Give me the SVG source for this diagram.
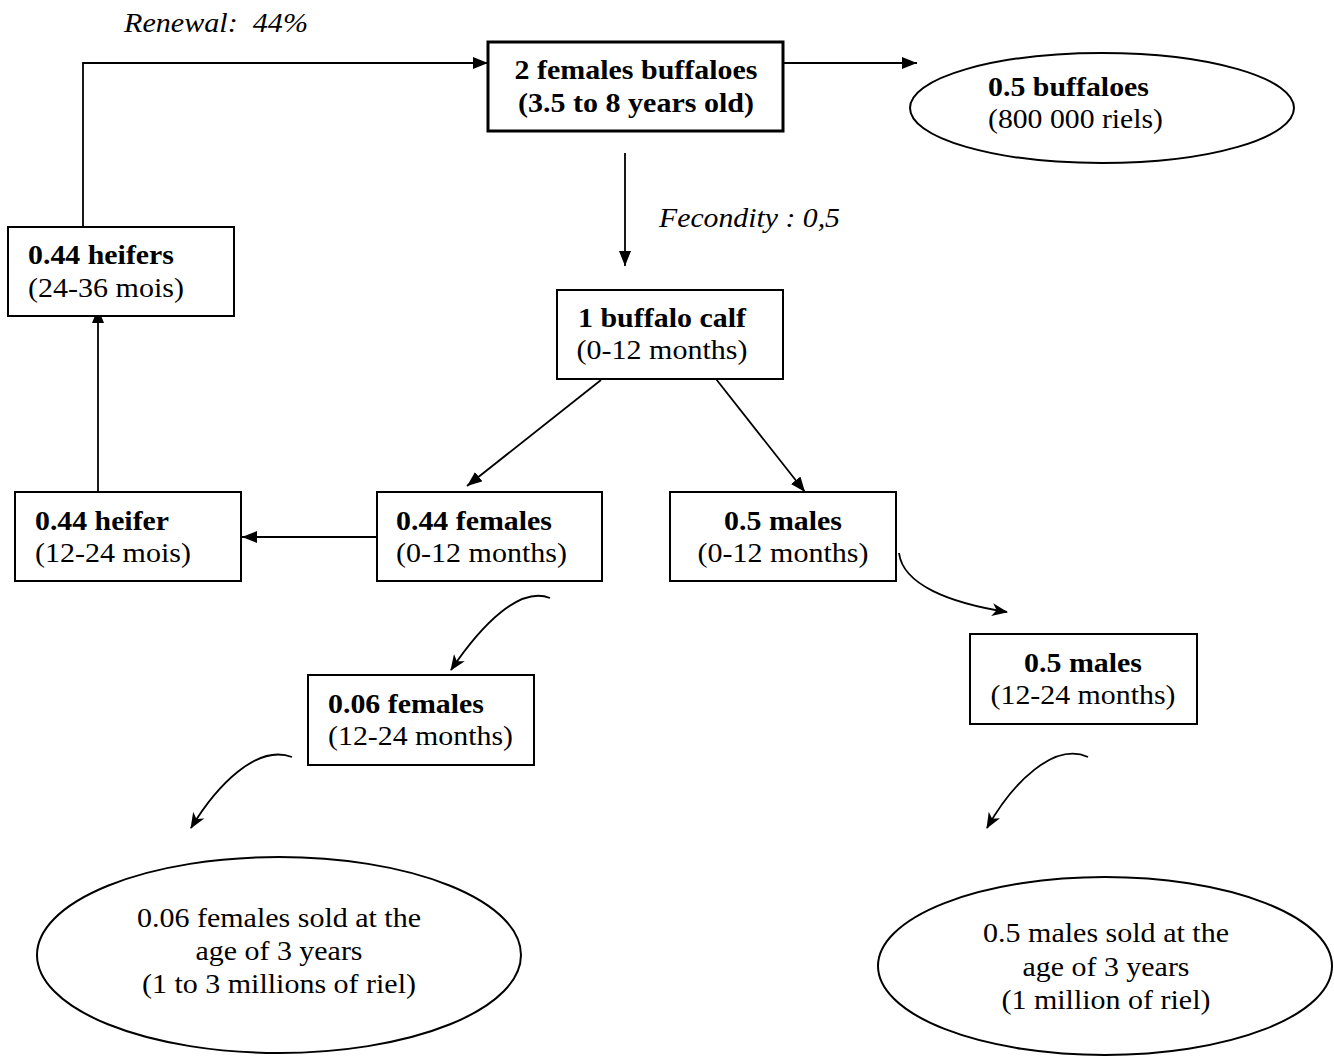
<svg xmlns="http://www.w3.org/2000/svg" width="1334" height="1057" viewBox="0 0 1334 1057">
<defs>
<style>
text{font-size:28px;fill:#000}
.b{font-weight:bold}
.i{font-style:italic}
.m{text-anchor:middle}
.box{fill:#fff;stroke:#000;stroke-width:2}
.thick{stroke-width:3}
.ell{fill:#fff;stroke:#000;stroke-width:2}
.c{fill:none;stroke:#000;stroke-width:1.8}
.s{marker-end:url(#tri)}
.k{marker-end:url(#stealth)}
</style>
<marker id="tri" viewBox="0 0 15 12" refX="15" refY="6" markerWidth="15" markerHeight="12" markerUnits="userSpaceOnUse" orient="auto"><path d="M0,0 L15,6 L0,12 z" fill="#000"/></marker>
<marker id="stealth" viewBox="0 0 16 13" refX="15" refY="6.5" markerWidth="16" markerHeight="13" markerUnits="userSpaceOnUse" orient="auto"><path d="M0,0 L16,6.5 L0,13 L4.5,6.5 z" fill="#000"/></marker>
</defs>
<rect width="1334" height="1057" fill="#fff"/>

<g id="connectors">
<path class="c s" d="M83 227 L83 63 L488 63"/>
<path class="c s" d="M783 63 L917 63"/>
<path class="c s" d="M625 153 L625 266"/>
<path class="c s" d="M601 380 L467 486"/>
<path class="c s" d="M716 379 L805 492"/>
<path class="c s" d="M376 537 L242 537"/>
<path class="c s" d="M98 492 L98 308"/>
<path class="c k" d="M899 553 C903 585 950 603 1007 612"/>
<path class="c k" d="M550 598 C520 586 482 624 451 670"/>
<path class="c k" d="M292 757 C257 744 217 785 191 828"/>
<path class="c k" d="M1088 757 C1054 742 1013 782 987 828"/>
</g>

<g font-family="'Liberation Serif', 'Times New Roman', serif">
<g id="label-renewal"><text class="i" x="124" y="32" xml:space="preserve" textLength="184" lengthAdjust="spacingAndGlyphs">Renewal:  44%</text></g>
<g id="label-fecondity"><text class="i" x="659" y="227" textLength="181" lengthAdjust="spacingAndGlyphs">Fecondity : 0,5</text></g>

<g id="node-females-adult">
<rect class="box thick" x="488" y="42" width="295" height="89"/>
<text class="b m" x="636" y="79" textLength="243" lengthAdjust="spacingAndGlyphs">2 females buffaloes</text>
<text class="b m" x="636" y="112" textLength="236" lengthAdjust="spacingAndGlyphs">(3.5 to 8 years old)</text>
</g>

<g id="node-buffaloes-sold">
<ellipse class="ell" cx="1102" cy="108" rx="192" ry="55"/>
<text class="b" x="988" y="96" textLength="161" lengthAdjust="spacingAndGlyphs">0.5 buffaloes</text>
<text x="988" y="128" textLength="175" lengthAdjust="spacingAndGlyphs">(800 000 riels)</text>
</g>

<g id="node-heifers-24-36">
<rect class="box" x="8" y="227" width="226" height="89"/>
<text class="b" x="28" y="264" textLength="146" lengthAdjust="spacingAndGlyphs">0.44 heifers</text>
<text x="28" y="297" textLength="156" lengthAdjust="spacingAndGlyphs">(24-36 mois)</text>
</g>

<g id="node-calf">
<rect class="box" x="557" y="290" width="226" height="89"/>
<text class="b m" x="662" y="327" textLength="168" lengthAdjust="spacingAndGlyphs">1 buffalo calf</text>
<text class="m" x="662" y="359" textLength="171" lengthAdjust="spacingAndGlyphs">(0-12 months)</text>
</g>

<g id="node-heifer-12-24">
<rect class="box" x="15" y="492" width="226" height="89"/>
<text class="b" x="35" y="530" textLength="134" lengthAdjust="spacingAndGlyphs">0.44 heifer</text>
<text x="35" y="562" textLength="156" lengthAdjust="spacingAndGlyphs">(12-24 mois)</text>
</g>

<g id="node-females-0-12">
<rect class="box" x="377" y="492" width="225" height="89"/>
<text class="b" x="396" y="530" textLength="156" lengthAdjust="spacingAndGlyphs">0.44 females</text>
<text x="396" y="562" textLength="171" lengthAdjust="spacingAndGlyphs">(0-12 months)</text>
</g>

<g id="node-males-0-12">
<rect class="box" x="670" y="492" width="226" height="89"/>
<text class="b m" x="783" y="530" textLength="118" lengthAdjust="spacingAndGlyphs">0.5 males</text>
<text class="m" x="783" y="562" textLength="171" lengthAdjust="spacingAndGlyphs">(0-12 months)</text>
</g>

<g id="node-males-12-24">
<rect class="box" x="970" y="634" width="227" height="90"/>
<text class="b m" x="1083" y="672" textLength="118" lengthAdjust="spacingAndGlyphs">0.5 males</text>
<text class="m" x="1083" y="704" textLength="185" lengthAdjust="spacingAndGlyphs">(12-24 months)</text>
</g>

<g id="node-females-12-24">
<rect class="box" x="308" y="675" width="226" height="90"/>
<text class="b" x="328" y="713" textLength="156" lengthAdjust="spacingAndGlyphs">0.06 females</text>
<text x="328" y="745" textLength="185" lengthAdjust="spacingAndGlyphs">(12-24 months)</text>
</g>

<g id="node-females-sold">
<ellipse class="ell" cx="279" cy="955" rx="242" ry="98"/>
<text class="m" x="279" y="927" textLength="284" lengthAdjust="spacingAndGlyphs">0.06 females sold at the</text>
<text class="m" x="279" y="960" textLength="167" lengthAdjust="spacingAndGlyphs">age of 3 years</text>
<text class="m" x="279" y="993" textLength="274" lengthAdjust="spacingAndGlyphs">(1 to 3 millions of riel)</text>
</g>

<g id="node-males-sold">
<ellipse class="ell" cx="1105" cy="966" rx="227" ry="89"/>
<text class="m" x="1106" y="942" textLength="246" lengthAdjust="spacingAndGlyphs">0.5 males sold at the</text>
<text class="m" x="1106" y="976" textLength="167" lengthAdjust="spacingAndGlyphs">age of 3 years</text>
<text class="m" x="1106" y="1009" textLength="209" lengthAdjust="spacingAndGlyphs">(1 million of riel)</text>
</g>
</g>
</svg>
